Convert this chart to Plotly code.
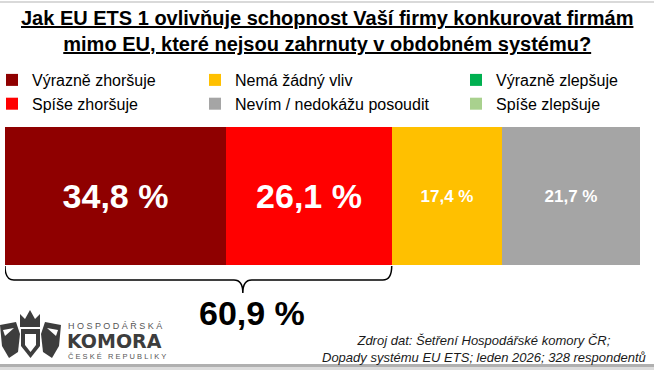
import plotly.graph_objects as go

# ---- data ----
categories = ["Výrazně zhoršuje", "Spíše zhoršuje", "Nemá žádný vliv",
              "Nevím / nedokážu posoudit", "Výrazně zlepšuje", "Spíše zlepšuje"]
values = [34.8, 26.1, 17.4, 21.7, 0.0, 0.0]
colors = ["#8f0000", "#ff0000", "#ffc000", "#a5a5a5", "#00b050", "#a9d18e"]
label_sizes = [34, 34, 17, 17, 17, 17]
legend_ids = ["legend", "legend", "legend2", "legend2", "legend3", "legend3"]
title_lines = ["Jak EU ETS 1 ovlivňuje schopnost Vaší firmy konkurovat firmám",
               "mimo EU, které nejsou zahrnuty v obdobném systému?"]
source_lines = ["Zdroj dat: Šetření Hospodářské komory ČR;",
                "Dopady systému EU ETS; leden 2026; 328 respondentů"]
negative_total = values[0] + values[1]

W, H = 654, 370
ML, MR, MT, MB = 5, 14, 127, 105
PW, PH = W - ML - MR, H - MT - MB
FONT = "Liberation Sans, Arial, sans-serif"


def fx(px):
    return (px - ML) / PW


def fy(py):
    return (H - MB - py) / PH


def fmt(v):
    return f"{v:.1f}".replace(".", ",") + " %"


fig = go.Figure()
for name, v, c, s, lg in zip(categories, values, colors, label_sizes, legend_ids):
    fig.add_trace(go.Bar(
        y=["q"], x=[v], name=name, orientation="h",
        marker=dict(color=c, line=dict(width=0)),
        text=[fmt(v)] if v > 0 else [""],
        textposition="inside", insidetextanchor="middle", textangle=0,
        textfont=dict(family=FONT, size=s, color="white", weight="bold"),
        legend=lg, hoverinfo="skip",
    ))

shapes = []
# top / bottom decorative lines
shapes.append(dict(type="rect", xref="paper", yref="paper", x0=fx(0), x1=fx(W),
                   y0=fy(3), y1=fy(1), fillcolor="#d9d9d9", line=dict(width=0), layer="below"))
shapes.append(dict(type="rect", xref="paper", yref="paper", x0=fx(0), x1=fx(W),
                   y0=fy(367), y1=fy(364), fillcolor="#b0b0b0", line=dict(width=0)))
shapes.append(dict(type="rect", xref="paper", yref="paper", x0=fx(0), x1=fx(W),
                   y0=fy(370), y1=fy(367), fillcolor="#dcdcdc", line=dict(width=0)))

# brace under the negative answers
x0, x1 = 0.0, negative_total
tip = x0 + (x1 - x0) * 0.615
r = 1.4
yt, ym, yb = fy(266), fy(280), fy(293)
brace = (f"M {x0},{yt} Q {x0},{ym} {x0 + r},{ym} L {tip - r},{ym} "
         f"Q {tip},{ym} {tip},{yb} Q {tip},{ym} {tip + r},{ym} "
         f"L {x1 - r},{ym} Q {x1},{ym} {x1},{yt}")
shapes.append(dict(type="path", xref="x", yref="paper", path=brace,
                   line=dict(color="black", width=1.5)))


def ppath(pts, close=True):
    s = "M " + " L ".join(f"{fx(a)},{fy(b)}" for a, b in pts)
    return s + (" Z" if close else "")


logo_c = "#3d3d3d"
crown = [(20, 327), (20, 314), (25, 319), (30, 310), (35, 319), (40, 314), (40, 327)]
lwing = [(0, 325), (16, 322), (20, 334), (18, 352), (9, 358), (2, 346)]
rwing = [(61, 325), (45, 322), (41, 334), (43, 352), (52, 358), (59, 346)]
shield = [(21, 329), (40, 329), (40, 346), (30.5, 358), (21, 346)]
for pts in (crown, lwing, rwing, shield):
    shapes.append(dict(type="path", xref="paper", yref="paper", path=ppath(pts),
                       fillcolor=logo_c, line=dict(width=0)))
shapes.append(dict(type="path", xref="paper", yref="paper",
                   path=ppath([(25, 334), (36, 334), (36, 345), (30.5, 352), (25, 345)]),
                   fillcolor="white", line=dict(width=0)))
shapes.append(dict(type="path", xref="paper", yref="paper",
                   path=ppath([(3, 330), (14, 328), (5, 336)]),
                   fillcolor="white", line=dict(width=0)))
shapes.append(dict(type="path", xref="paper", yref="paper",
                   path=ppath([(58, 330), (47, 328), (56, 336)]),
                   fillcolor="white", line=dict(width=0)))

annotations = [
    dict(xref="paper", yref="paper", x=fx(W / 2), y=fy(5),
         text="<br>".join(f"<b><u>{t}</u></b>" for t in title_lines),
         showarrow=False, xanchor="center", yanchor="top", align="center",
         font=dict(family=FONT, size=20, color="black")),
    dict(xref="x", yref="paper", x=tip, xshift=9, y=fy(313),
         text=f"<b>{fmt(negative_total)}</b>",
         showarrow=False, xanchor="center", yanchor="middle",
         font=dict(family=FONT, size=34, color="black")),
    dict(xref="paper", yref="paper", x=fx(484), y=fy(348.5),
         text="<br>".join(source_lines), showarrow=False, xanchor="center",
         yanchor="middle", align="center",
         font=dict(family=FONT, size=13, color="#1a1a1a", style="italic")),
    dict(xref="paper", yref="paper", x=fx(66), y=fy(326), text=" ".join("HOSPODÁŘSKÁ"),
         showarrow=False, xanchor="left", yanchor="middle",
         font=dict(family=FONT, size=9, color="#555555")),
    dict(xref="paper", yref="paper", x=fx(65), y=fy(341), text="<b>KOMORA</b>",
         showarrow=False, xanchor="left", yanchor="middle",
         font=dict(family="DejaVu Sans, sans-serif", size=19, color=logo_c)),
    dict(xref="paper", yref="paper", x=fx(66), y=fy(356),
         text=" ".join("ČESKÉ") + "   " + " ".join("REPUBLIKY"),
         showarrow=False, xanchor="left", yanchor="middle",
         font=dict(family=FONT, size=7.5, color="#555555")),
]

leg_common = dict(orientation="v", yanchor="top", xanchor="left", bgcolor="rgba(0,0,0,0)",
                  traceorder="normal",
                  font=dict(family=FONT, size=16, color="black"), tracegroupgap=0)
ly = fy(63)

fig.update_layout(
    width=W, height=H,
    margin=dict(l=ML, r=MR, t=MT, b=MB, autoexpand=False),
    paper_bgcolor="white", plot_bgcolor="white",
    barmode="stack", bargap=0,
    showlegend=True,
    legend=dict(x=fx(-8), y=ly, **leg_common),
    legend2=dict(x=fx(195), y=ly, **leg_common),
    legend3=dict(x=fx(456), y=ly, **leg_common),
    xaxis=dict(range=[0, 100], visible=False, fixedrange=True),
    yaxis=dict(visible=False, fixedrange=True),
    shapes=shapes, annotations=annotations,
)

fig.write_html("out.html", config=dict(displayModeBar=False),
               post_script="document.body.style.margin='0';document.body.style.overflow='hidden';")
